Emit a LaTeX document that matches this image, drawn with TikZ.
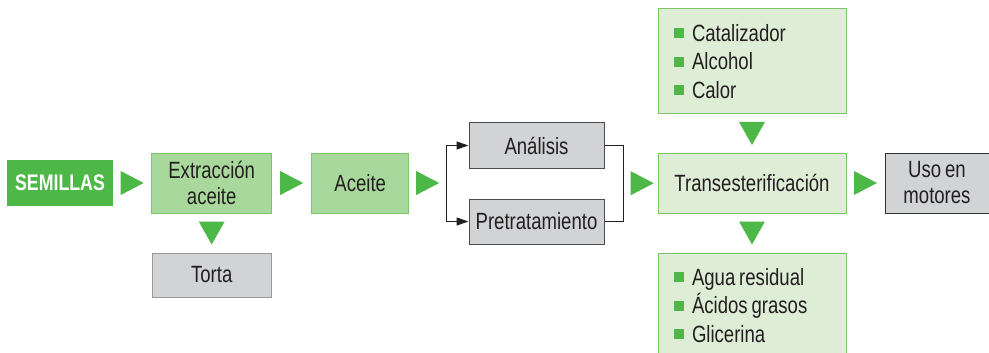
\documentclass[tikz,border=0pt]{standalone}
\usepackage{fontspec}
\setmainfont{Liberation Sans}[FakeStretch=0.79,WordSpace=0.75]
\usetikzlibrary{arrows.meta,positioning,calc}
\definecolor{darkgreen}{HTML}{4DB848}
\definecolor{midgreen}{HTML}{A9D89C}
\definecolor{palegreen}{HTML}{DDEDD6}
\definecolor{linegreen}{HTML}{7CC46A}
\definecolor{boxgray}{HTML}{D1D3D4}
\definecolor{textgray}{HTML}{231F20}
\newcommand{\sq}{\textcolor{darkgreen}{\raisebox{3pt}{\rule{10pt}{10pt}}}\hspace{8pt}}

\begin{document}
\begin{tikzpicture}
[x=1pt,y=1pt,
box/.style={rectangle,inner sep=0pt,align=center,text=textgray,font=\fontsize{23.5}{26}\selectfont},
start/.style={box,fill=darkgreen,text=white,font=\fontsize{22.5}{25}\selectfont\bfseries},
stage/.style={box,fill=midgreen,draw=linegreen,line width=1pt},
process/.style={box,fill=palegreen,draw=linegreen,line width=1pt},
list/.style={process,align=flush left,inner xsep=16pt,text width=156pt,minimum height=105pt,font=\fontsize{23.5}{28.5}\selectfont},
rest/.style={box,fill=boxgray,draw=black!70,line width=1pt},
branch/.style={-{Triangle[length=12pt,width=8pt]},line width=1.2pt,textgray},
merging/.style={line width=1.2pt,textgray},
tri right/.pic={\fill[darkgreen] (-11.5,12) -- (11.5,0) -- (-11.5,-12) -- cycle;},
tri down/.pic={\fill[darkgreen] (-13,11.5) -- (13,11.5) -- (0,-11.5) -- cycle;}]
\useasboundingbox (0,0) rectangle (989,-353);
\node[start,minimum width=106pt,minimum height=46pt] (semillas) at (60,-183) {SEMILLAS};
\node[stage,minimum width=120pt,minimum height=60pt] (extraccion) [right=38pt of semillas] {Extracción\\aceite};
\node[rest,draw=black!40,minimum width=119pt,minimum height=44pt] (torta) [below=39pt of extraccion] {Torta};
\node[stage,minimum width=97pt,minimum height=60pt] (aceite) [right=39pt of extraccion] {Aceite};
\node[rest,minimum width=135pt,minimum height=45pt] (analisis) at (536.5,-145.5) {Análisis};
\node[rest,minimum width=135pt,minimum height=45pt] (pretratamiento) [below=30pt of analisis] {Pretratamiento};
\node[process,minimum width=188pt,minimum height=60pt] (trans) at (752,-183) {Transesterificación};
\node[list] (insumos) [above=38pt of trans] {\sq Catalizador\\\sq Alcohol\\\sq Calor};
\node[list] (productos) [below=39pt of trans] {\sq Agua residual\\\sq Ácidos grasos\\\sq Glicerina};
\node[rest,draw=black!80,minimum width=104pt,minimum height=60pt] (uso) [right=38pt of trans] {Uso en\\motores};
\coordinate (split) at ($(aceite.east)+(37pt,0)$);
\coordinate (merge) at ($(analisis.east)!0.5!(pretratamiento.east)+(19pt,0)$);
\draw[branch] (split) |- (analisis.west);
\draw[branch] (split) |- (pretratamiento.west);
\draw[merging] (analisis.east) -| (merge) |- (pretratamiento.east);
\pic at ($(semillas.east)!0.5!(extraccion.west)$) {tri right};
\pic at ($(extraccion.east)!0.5!(aceite.west)$) {tri right};
\pic at ($(aceite.east)!0.5!(split)$) {tri right};
\pic at ($(merge)!0.55!(trans.west)$) {tri right};
\pic at ($(trans.east)!0.5!(uso.west)$) {tri right};
\pic at ($(extraccion.south)!0.5!(torta.north)$) {tri down};
\pic at ($(insumos.south)!0.5!(trans.north)$) {tri down};
\pic at ($(trans.south)!0.5!(productos.north)$) {tri down};
\end{tikzpicture}
\end{document}
